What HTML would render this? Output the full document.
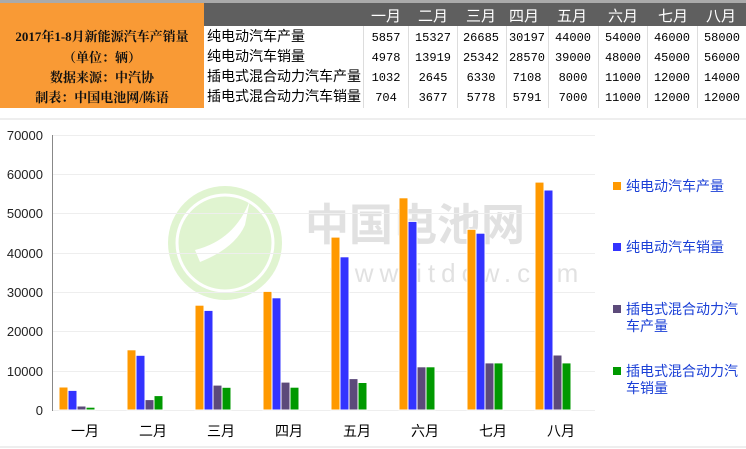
<!DOCTYPE html>
<html><head><meta charset="utf-8"><style>
html,body{margin:0;padding:0;background:#fff;}
svg{display:block;}
</style></head><body>
<svg width="746" height="449" xmlns="http://www.w3.org/2000/svg" font-family="'Liberation Sans','Noto Sans CJK SC',sans-serif">
<rect x="0" y="0" width="746" height="449" fill="#fff"/>
<rect x="0" y="0" width="746" height="3" fill="#aaa"/>
<rect x="0" y="3" width="204" height="105" fill="#f99a35"/>
<rect x="204" y="3" width="542" height="23" fill="#5f5f5f"/>
<g font-size="13" font-weight="bold" fill="#111" text-anchor="middle" font-family="'Liberation Serif','Noto Serif CJK SC',serif">
<text x="102" y="41">2017年1-8月新能源汽车产销量</text>
<text x="102" y="62">（单位：辆）</text>
<text x="102" y="82">数据来源：中汽协</text>
<text x="102" y="102">制表：中国电池网/陈语</text>
</g>
<g font-size="14" fill="#000">
<text x="207" y="41">纯电动汽车产量</text>
<text x="207" y="61">纯电动汽车销量</text>
<text x="207" y="81">插电式混合动力汽车产量</text>
<text x="207" y="101">插电式混合动力汽车销量</text>
</g>
<g stroke="#ddd" stroke-width="1">
<line x1="363.5" y1="26" x2="363.5" y2="108"/>
<line x1="408.5" y1="26" x2="408.5" y2="108"/>
<line x1="457.5" y1="26" x2="457.5" y2="108"/>
<line x1="506.5" y1="26" x2="506.5" y2="108"/>
<line x1="548.5" y1="26" x2="548.5" y2="108"/>
<line x1="598.5" y1="26" x2="598.5" y2="108"/>
<line x1="647.5" y1="26" x2="647.5" y2="108"/>
<line x1="697.5" y1="26" x2="697.5" y2="108"/>
</g>
<g font-size="15" fill="#fff" text-anchor="middle">
<text x="386" y="21">一月</text><text x="433" y="21">二月</text><text x="481" y="21">三月</text><text x="524" y="21">四月</text><text x="572" y="21">五月</text><text x="623" y="21">六月</text><text x="673" y="21">七月</text><text x="721" y="21">八月</text>
</g>
<g font-size="12" fill="#000" text-anchor="middle" font-family="'Liberation Mono',monospace">
<text x="386" y="41">5857</text><text x="433" y="41">15327</text><text x="481" y="41">26685</text><text x="527" y="41">30197</text><text x="573" y="41">44000</text><text x="623" y="41">54000</text><text x="672" y="41">46000</text><text x="722" y="41">58000</text>
<text x="386" y="61">4978</text><text x="433" y="61">13919</text><text x="481" y="61">25342</text><text x="527" y="61">28570</text><text x="573" y="61">39000</text><text x="623" y="61">48000</text><text x="672" y="61">45000</text><text x="722" y="61">56000</text>
<text x="386" y="81">1032</text><text x="433" y="81">2645</text><text x="481" y="81">6330</text><text x="527" y="81">7108</text><text x="573" y="81">8000</text><text x="623" y="81">11000</text><text x="672" y="81">12000</text><text x="722" y="81">14000</text>
<text x="386" y="101">704</text><text x="433" y="101">3677</text><text x="481" y="101">5778</text><text x="527" y="101">5791</text><text x="573" y="101">7000</text><text x="623" y="101">11000</text><text x="672" y="101">12000</text><text x="722" y="101">12000</text>
</g>
<rect x="0" y="118" width="746" height="2" fill="#eee"/>
<rect x="0" y="446" width="746" height="2" fill="#eee"/>
<!-- watermark -->
<g opacity="0.35">
<circle cx="225" cy="243" r="57" fill="#a8e07a"/>
<circle cx="225" cy="243" r="48" fill="none" stroke="#fff" stroke-width="3"/>
<path d="M195 250 Q235 240 250 200 L245 225 Q235 248 200 262Z" fill="#fff"/>
<text x="305" y="240" font-size="44" font-weight="bold" fill="#aaa">中国电池网</text>
<text x="330" y="282" font-size="26" fill="#aaa" letter-spacing="6">www.itdcw.com</text>
</g>
<g stroke="#eee" stroke-width="1">
<line x1="52" y1="135.5" x2="595" y2="135.5"/>
<line x1="52" y1="174.5" x2="595" y2="174.5"/>
<line x1="52" y1="213.5" x2="595" y2="213.5"/>
<line x1="52" y1="253.5" x2="595" y2="253.5"/>
<line x1="52" y1="292.5" x2="595" y2="292.5"/>
<line x1="52" y1="331.5" x2="595" y2="331.5"/>
<line x1="52" y1="371.5" x2="595" y2="371.5"/>
<line x1="52" y1="410.5" x2="595" y2="410.5"/>
</g>
<line x1="52.5" y1="135" x2="52.5" y2="411" stroke="#888"/>
<g font-size="13" fill="#222" text-anchor="end">
<text x="43" y="140">70000</text><text x="43" y="179">60000</text><text x="43" y="218">50000</text><text x="43" y="258">40000</text><text x="43" y="297">30000</text><text x="43" y="336">20000</text><text x="43" y="376">10000</text><text x="43" y="415">0</text>
</g>
<g font-size="14" fill="#000" text-anchor="middle">
<text x="85" y="436">一月</text><text x="153" y="436">二月</text><text x="221" y="436">三月</text><text x="289" y="436">四月</text><text x="357" y="436">五月</text><text x="425" y="436">六月</text><text x="493" y="436">七月</text><text x="561" y="436">八月</text>
</g>
<g stroke="#fff" stroke-width="1">
<!-- scale 0.003929 px per unit, base 410 -->
<rect x="59" y="387" width="9" height="23" fill="#f90"/><rect x="68" y="390.4" width="9" height="19.6" fill="#33f"/><rect x="77" y="406" width="9" height="4" fill="#5c4a7a"/><rect x="86" y="407.2" width="9" height="2.8" fill="#090"/>
<rect x="127" y="349.8" width="9" height="60.2" fill="#f90"/><rect x="136" y="355.3" width="9" height="54.7" fill="#33f"/><rect x="145" y="399.6" width="9" height="10.4" fill="#5c4a7a"/><rect x="154" y="395.6" width="9" height="14.4" fill="#090"/>
<rect x="195" y="305.2" width="9" height="104.8" fill="#f90"/><rect x="204" y="310.4" width="9" height="99.6" fill="#33f"/><rect x="213" y="385.1" width="9" height="24.9" fill="#5c4a7a"/><rect x="222" y="387.3" width="9" height="22.7" fill="#090"/>
<rect x="263" y="291.4" width="9" height="118.6" fill="#f90"/><rect x="272" y="297.8" width="9" height="112.2" fill="#33f"/><rect x="281" y="382.1" width="9" height="27.9" fill="#5c4a7a"/><rect x="290" y="387.2" width="9" height="22.8" fill="#090"/>
<rect x="331" y="237.1" width="9" height="172.9" fill="#f90"/><rect x="340" y="256.8" width="9" height="153.2" fill="#33f"/><rect x="349" y="378.6" width="9" height="31.4" fill="#5c4a7a"/><rect x="358" y="382.5" width="9" height="27.5" fill="#090"/>
<rect x="399" y="197.8" width="9" height="212.2" fill="#f90"/><rect x="408" y="221.4" width="9" height="188.6" fill="#33f"/><rect x="417" y="366.8" width="9" height="43.2" fill="#5c4a7a"/><rect x="426" y="366.8" width="9" height="43.2" fill="#090"/>
<rect x="467" y="229.3" width="9" height="180.7" fill="#f90"/><rect x="476" y="233.2" width="9" height="176.8" fill="#33f"/><rect x="485" y="362.9" width="9" height="47.1" fill="#5c4a7a"/><rect x="494" y="362.9" width="9" height="47.1" fill="#090"/>
<rect x="535" y="182.1" width="9" height="227.9" fill="#f90"/><rect x="544" y="190" width="9" height="220" fill="#33f"/><rect x="553" y="355" width="9" height="55" fill="#5c4a7a"/><rect x="562" y="362.9" width="9" height="47.1" fill="#090"/>
</g>
<g font-size="14" fill="#1a3fd6">
<rect x="613" y="182" width="8" height="8" fill="#f90"/><text x="626" y="191">纯电动汽车产量</text>
<rect x="613" y="243" width="8" height="8" fill="#33f"/><text x="626" y="252">纯电动汽车销量</text>
<rect x="613" y="305" width="8" height="8" fill="#5c4a7a"/><text x="626" y="314">插电式混合动力汽</text><text x="626" y="331">车产量</text>
<rect x="613" y="367" width="8" height="8" fill="#090"/><text x="626" y="376">插电式混合动力汽</text><text x="626" y="393">车销量</text>
</g>
</svg>
</body></html>
